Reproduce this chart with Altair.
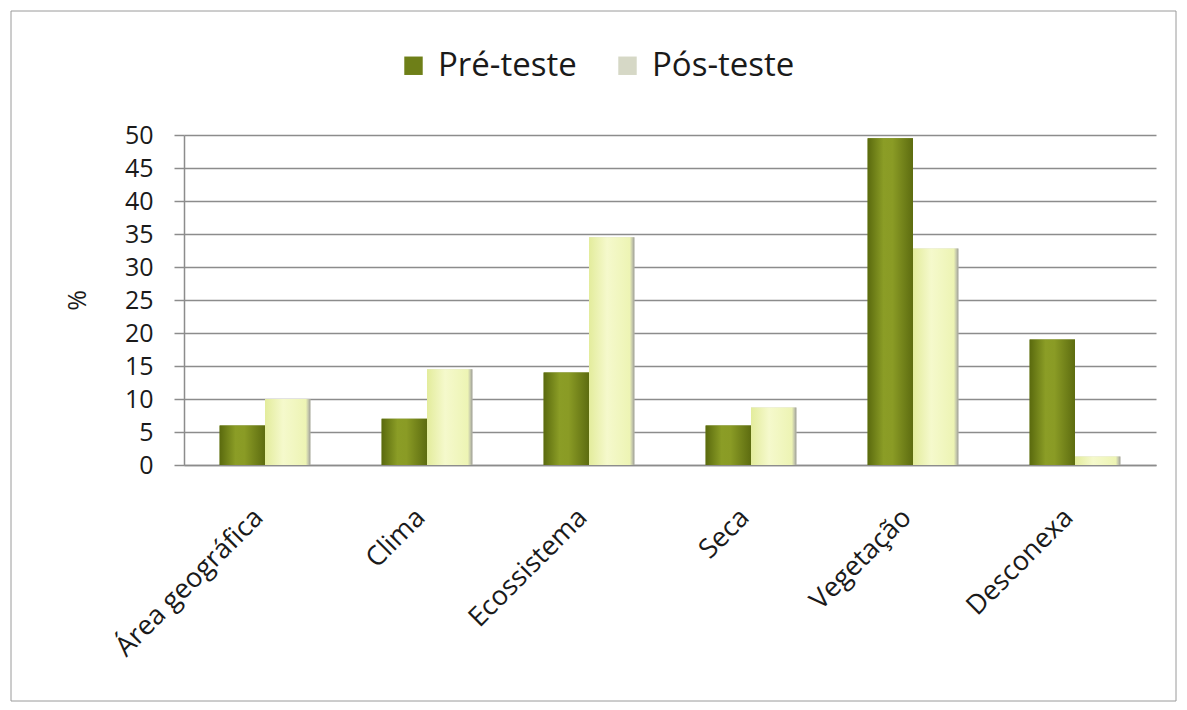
import altair as alt
import pandas as pd

categories = ["Área geográfica", "Clima", "Ecossistema", "Seca", "Vegetação", "Desconexa"]
series = ["Pré-teste", "Pós-teste"]
pre_values = [6, 7, 14, 6, 49.5, 19]
post_values = [10, 14.5, 34.5, 8.7, 32.8, 1.3]
y_ticks = [0, 5, 10, 15, 20, 25, 30, 35, 40, 45, 50]

rows = []
for c, a, b in zip(categories, pre_values, post_values):
    rows.append({"cat": c, "serie": series[0], "val": a})
    rows.append({"cat": c, "serie": series[1], "val": b})
df = pd.DataFrame(rows)

FONT = "Open Sans"
GRID = "#8c8c8c"
TXT = "#1a1a1a"

x_enc = alt.X("cat:N", sort=categories, title=None,
              scale=alt.Scale(paddingInner=0.44, paddingOuter=0.22),
              axis=alt.Axis(labelAngle=-45, labelAlign="right", labelBaseline="middle",
                            labelPadding=48, labelOffset=-6, ticks=False, domain=True,
                            domainColor=GRID, domainWidth=1.5, labelFontSize=27, labelColor=TXT,
                            labelFont=FONT, grid=False, labelOverlap=False, labelLimit=500))
xo_enc = alt.XOffset("serie:N", sort=series, scale=alt.Scale(paddingInner=0, paddingOuter=0))
y_enc = alt.Y("val:Q", title="%", scale=alt.Scale(domain=[0, 50]),
              axis=alt.Axis(values=y_ticks, grid=True, gridColor=GRID, gridWidth=1.5,
                            domainColor=GRID, domainWidth=1.5, tickColor=GRID, tickSize=10,
                            tickWidth=1.5, labelFontSize=25, labelFont=FONT, labelColor=TXT,
                            labelPadding=21, labelOverlap=False, titleFontSize=25, titleFont=FONT,
                            titleFontWeight="normal", titleColor=TXT, titlePadding=34))

base = alt.Chart(df).mark_bar().encode(
    x=x_enc, xOffset=xo_enc, y=y_enc,
    color=alt.Color("serie:N", sort=series,
                    scale=alt.Scale(domain=series, range=["#6e7f18", "#d6d8c6"]),
                    legend=alt.Legend(title=None, orient="none", legendX=213, legendY=-86,
                                      direction="horizontal", symbolType="square",
                                      symbolSize=340, symbolStrokeWidth=0,
                                      labelFontSize=33, labelFont=FONT, labelColor=TXT,
                                      labelOffset=8, columnPadding=34, padding=0)),
)

pre_grad = alt.Gradient(gradient="linear", x1=0, x2=1, y1=0, y2=0, stops=[
    alt.GradientStop(offset=0, color="#5a6a0e"),
    alt.GradientStop(offset=0.35, color="#8b9d26"),
    alt.GradientStop(offset=0.55, color="#8a9b25"),
    alt.GradientStop(offset=1, color="#5d6c10"),
])
post_grad = alt.Gradient(gradient="linear", x1=0, x2=1, y1=0, y2=0, stops=[
    alt.GradientStop(offset=0, color="#e3ec9c"),
    alt.GradientStop(offset=0.4, color="#f5f9cc"),
    alt.GradientStop(offset=0.9, color="#edf4b4"),
    alt.GradientStop(offset=0.97, color="#b9bba8"),
    alt.GradientStop(offset=1, color="#9a9a90"),
])

pre_layer = alt.Chart(df).transform_filter(alt.datum.serie == series[0]).mark_bar(fill=pre_grad).encode(
    x=x_enc, xOffset=xo_enc, y=y_enc)
post_layer = alt.Chart(df).transform_filter(alt.datum.serie == series[1]).mark_bar(fill=post_grad).encode(
    x=x_enc, xOffset=xo_enc, y=y_enc)

frame = alt.Chart(alt.Data(values=[{"k": 1}])).mark_rect(fill=None, stroke="#9a9a9a", strokeWidth=1).encode(
    x=alt.value(-173), x2=alt.value(992), y=alt.value(-124), y2=alt.value(566))

chart = alt.layer(base, pre_layer, post_layer, frame).properties(
    width=972, height=330,
    padding={"left": 2, "top": 2, "right": 0, "bottom": 0},
    background="white",
).configure_view(stroke=None)

chart.save("out.html", embed_options={"renderer": "svg", "actions": False})
